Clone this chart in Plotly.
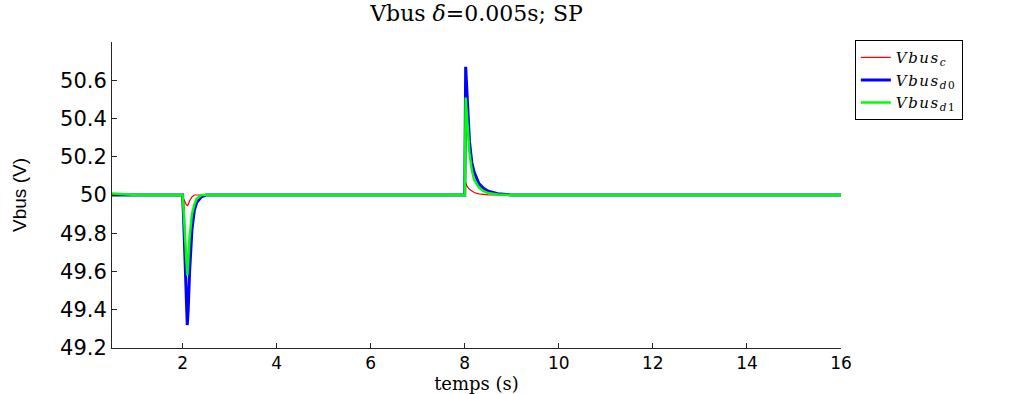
import plotly.graph_objects as go

# time samples (s)
t = [0.5, 1.0, 1.5, 1.99, 2.0, 2.02, 2.05, 2.08, 2.1, 2.12, 2.15, 2.2, 2.25, 2.3, 2.4, 2.5,
     3.0, 4.0, 5.0, 6.0, 7.0, 7.99, 8.0, 8.02, 8.05, 8.1, 8.15, 8.2, 8.3, 8.4, 8.5, 8.7,
     9.0, 10.0, 12.0, 14.0, 16.0]

vbus_c = [50.005, 50.0, 50.0, 50.0, 50.0, 49.98, 49.96, 49.95, 49.945, 49.95, 49.97, 49.99, 50.0, 50.0, 50.0, 50.0,
          50.0, 50.0, 50.0, 50.0, 50.0, 50.0, 50.0, 50.064, 50.045, 50.03, 50.02, 50.013, 50.006, 50.003, 50.001, 50.0,
          50.0, 50.0, 50.0, 50.0, 50.0]

vbus_d0 = [50.0, 50.0, 50.0, 50.0, 50.0, 49.9, 49.7, 49.45, 49.32, 49.4, 49.6, 49.82, 49.92, 49.96, 49.99, 50.0,
           50.0, 50.0, 50.0, 50.0, 50.0, 50.0, 50.0, 50.67, 50.5, 50.28, 50.17, 50.12, 50.06, 50.035, 50.02, 50.007,
           50.0, 50.0, 50.0, 50.0, 50.0]

vbus_d1 = [50.008, 50.0, 50.0, 50.0, 50.0, 49.93, 49.8, 49.65, 49.58, 49.65, 49.78, 49.9, 49.95, 49.98, 50.0, 50.0,
           50.0, 50.0, 50.0, 50.0, 50.0, 50.0, 50.0, 50.51, 50.38, 50.22, 50.13, 50.08, 50.04, 50.02, 50.01, 50.003,
           50.0, 50.0, 50.0, 50.0, 50.0]

x_ticks = [2, 4, 6, 8, 10, 12, 14, 16]
y_ticks = [49.2, 49.4, 49.6, 49.8, 50.0, 50.2, 50.4, 50.6]
y_tick_text = ["49.2", "49.4", "49.6", "49.8", "50", "50.2", "50.4", "50.6"]


def leg(main, sub_italic, sub_plain=""):
    sp = 'style="letter-spacing:1.5px"'
    return (f'<i><span {sp}>{main}</span></i>'
            f'<sub><i><span {sp}>{sub_italic}</span></i><span {sp}>{sub_plain}</span></sub>')


series = [
    (leg("Vbus", "c"), vbus_c, "#ff0000", 1.2),
    (leg("Vbus", "d", "0"), vbus_d0, "#0000ff", 3),
    (leg("Vbus", "d", "1"), vbus_d1, "#00ff00", 2.5),
]

fig = go.Figure()
for name, vals, color, w in series:
    fig.add_trace(go.Scatter(x=t, y=vals, mode="lines", name=name,
                             line=dict(color=color, width=w)))

axis_common = dict(showline=True, linecolor="#262626", linewidth=1, ticks="inside",
                   ticklen=5, tickcolor="#262626", showgrid=False, zeroline=False,
                   mirror=False, automargin=False)

W, H = 1012, 394
fig.update_layout(
    width=W, height=H,
    margin=dict(l=112, r=171, t=42, b=46, autoexpand=False),
    paper_bgcolor="white", plot_bgcolor="white",
    title=dict(text="Vbus <i>δ</i>=0.005s; SP", x=(112 + 841) / 2 / W, xanchor="center",
               y=1 - 13 / H, yanchor="middle",
               font=dict(family="DejaVu Serif", size=22, color="black")),
    showlegend=True,
    legend=dict(x=1.019, y=1.006, xanchor="left", yanchor="top",
                bordercolor="black", borderwidth=1, bgcolor="white",
                font=dict(family="DejaVu Serif", size=15, color="black"),
                tracegroupgap=0, itemwidth=30),
    xaxis=dict(range=[0.5, 16], tickvals=x_ticks, ticktext=[str(v) for v in x_ticks],
               tickfont=dict(family="DejaVu Sans", size=17, color="black"),
               ticklabelstandoff=0,
               title=dict(text="temps (s)", standoff=2,
                          font=dict(family="DejaVu Serif", size=18, color="black")),
               **axis_common),
    yaxis=dict(range=[49.2, 50.8], tickvals=y_ticks, ticktext=y_tick_text,
               tickfont=dict(family="DejaVu Sans", size=21, color="black"),
               title=dict(text="Vbus (V)", standoff=28,
                          font=dict(family="Liberation Sans", size=19, color="black")),
               **axis_common),
)

# remove the browser's default 8px page margin so the figure sits at the window origin
fig.write_html("out.html", config={"displayModeBar": False},
               post_script="document.body.style.margin='0';")
